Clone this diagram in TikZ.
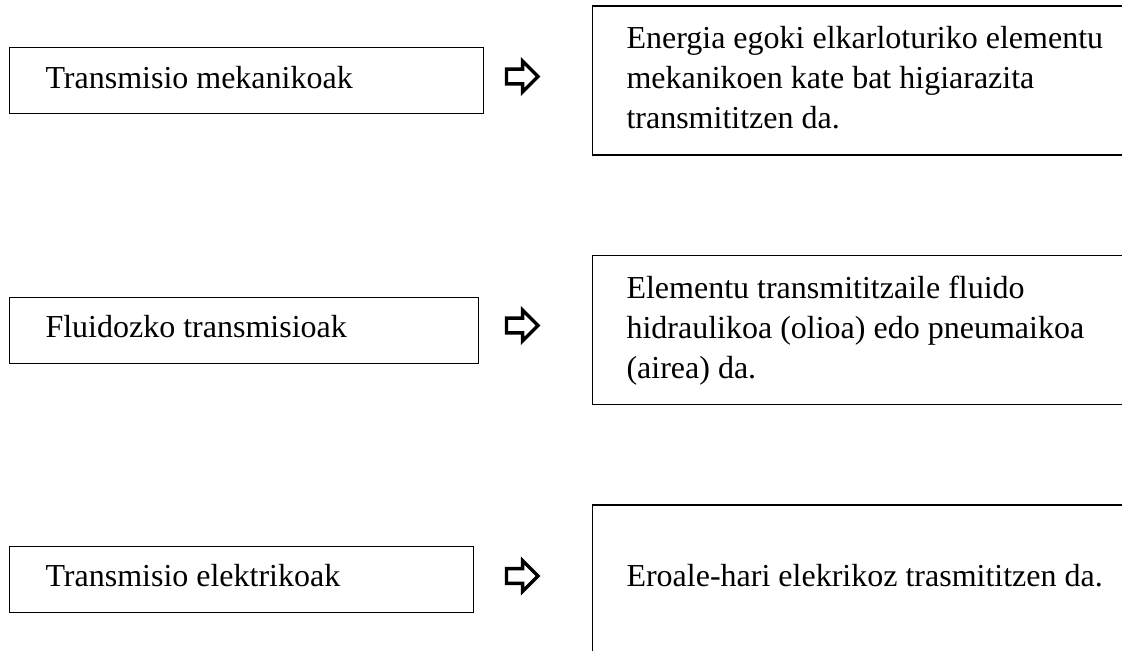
\documentclass[tikz,border=0pt]{standalone}
\usepackage{fontspec}
\setmainfont{Liberation Serif}
\usetikzlibrary{shapes.arrows}

\begin{document}
\begin{tikzpicture}[
	x=0.375pt, 
	y=-0.375pt, 
	font=\fontsize{12pt}{15pt}\selectfont,
	box/.style={
		draw, 
		line width=0.5pt
	},
	kind/.style={
		anchor=base west, 
		inner sep=0pt
	},
	desc/.style={
		anchor=north west, 
		inner sep=0pt, 
		align=left
	},
	goes/.style={
		single arrow, 
		draw, 
		line width=1.3pt, 
		inner sep=2.15pt, 
		minimum height=11.8pt, 
		single arrow head extend=2.95pt
	}]

   \useasboundingbox (0,0) rectangle (1122,651);
   \clip (0,0) rectangle (1122,651);

   % left column
   \draw[box] (9.7,47.3) rectangle (483.3,113.5);
   \draw[box] (9.7,297.3) rectangle (478.5,363.3);
   \draw[box] (9.7,546.7) rectangle (473.3,612.5);
   \node[kind] (mech) at (45,88.3) {Transmisio mekanikoak};
   \node[kind] (fluid) at (45,337.5) {Fluidozko transmisioak};
   \node[kind] (elec) at (45,586.7) {Transmisio elektrikoak};

   % arrows
   \node[goes] (a_1) at (518.5,76.5) {};
   \node[goes] (a_2) at (518.5,325.5) {};
   \node[goes] (a_3) at (518.5,576) {};

   % right column, open to the right
   \draw[box] (592.3,6) rectangle (1140,155);
   \draw[box] (592.3,255.7) rectangle (1140,404.3);
   \draw[box] (592.3,505) rectangle (1140,700);
   \node[desc] (mech_d) at (626,20.3) {\strut Energia egoki elkarloturiko elementu\\
      mekanikoen kate bat higiarazita\\ transmititzen da.};
   \node[desc] (fluid_d) at (626,269.8) {\strut Elementu transmititzaile fluido\\
      hidraulikoa (olioa) edo pneumaikoa\\ (airea) da.};
   \node[kind] (elec_d) at (626,586.7) {Eroale-hari elekrikoz trasmititzen da.};
\end{tikzpicture}
\end{document}
